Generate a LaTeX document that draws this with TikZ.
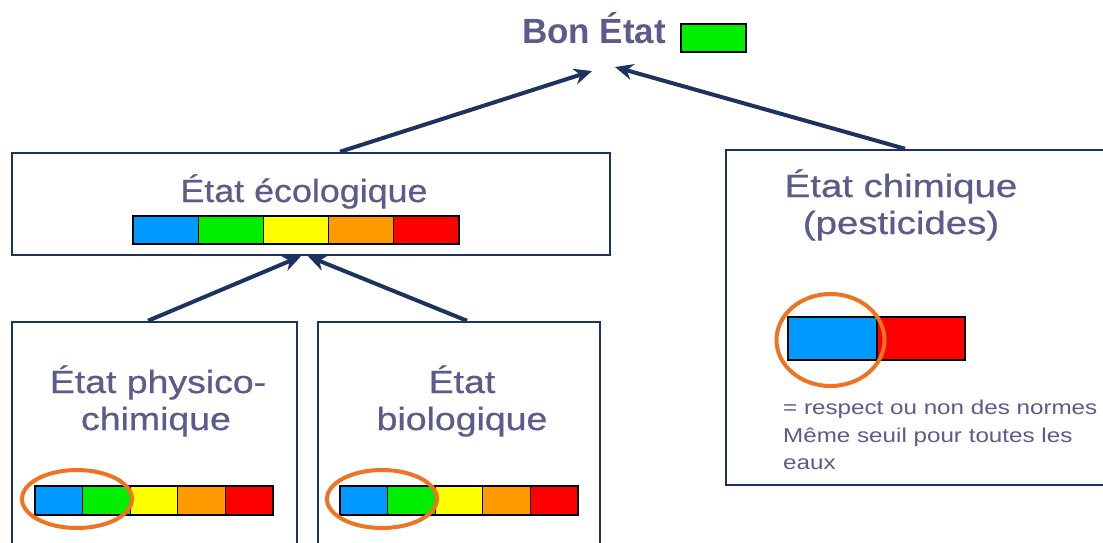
\documentclass[tikz,border=0pt]{standalone}
\usepackage{fontspec}
\setmainfont{Liberation Sans}
\newfontfamily\medsans{Liberation Sans}[FakeBold=0.6]
\usetikzlibrary{arrows.meta}

\definecolor{navy}{HTML}{1C335F}
\definecolor{ink}{HTML}{5C5C8C}
\definecolor{cblue}{HTML}{0099FF}
\definecolor{cgreen}{HTML}{00EE00}
\definecolor{cyellow}{HTML}{FFFF00}
\definecolor{corange}{HTML}{FF9900}
\definecolor{cred}{HTML}{FF0000}
\definecolor{ringc}{HTML}{EE7422}

% five-class status bar: left x, top y, cell width, height
\newcommand{\fivebar}[4]{%
  \foreach \c [count=\i from 0] in {cblue,cgreen,cyellow,corange,cred}
    \filldraw[fill=\c, draw=black, line width=1.2pt] ({#1+\i*#3},#2) rectangle ++(#3,#4);}

\tikzset{
  panel/.style={draw=navy, fill=white, line width=2.5pt, inner sep=0pt},
  lbl/.style={text=ink, inner sep=0pt, anchor=base, font=\medsans\fontsize{32}{38}\selectfont},
  note/.style={text=ink, inner sep=0pt, anchor=base west, font=\fontsize{20}{24}\selectfont},
  arr/.style={draw=navy, line width=4pt, -{Stealth[length=18pt,width=16pt]}},
  ring/.style={draw=ringc, line width=4pt},
}

\begin{document}
\begin{tikzpicture}[x=1pt,y=-1pt]
\useasboundingbox (0,0) rectangle (1103,542);
\clip (0,0) rectangle (1103,542);
\fill[white] (0,0) rectangle (1103,542);

% panels
\node[panel, minimum width=598pt, minimum height=102pt] (eco) at (311,204) {};
\node[panel, minimum width=400pt, minimum height=335pt] (chim) at (926,317.5) {};
\node[panel, minimum width=285pt, minimum height=240pt] (phys) at (154.5,442) {};
\node[panel, minimum width=282pt, minimum height=240pt] (bio) at (459,442) {};

% overall status
\node[lbl, font=\bfseries\fontsize{35}{42}\selectfont] (bon) at (594,43) {Bon État};
\node[draw=black, fill=cgreen, line width=1.2pt, minimum width=65pt, minimum height=28pt, inner sep=0pt] (bonbar) at (713.5,38) {};

% ecological status
\node[lbl] (ecoT) at (304,202) {\scalebox{1.12}[1]{État écologique}};
\fivebar{133}{216}{65.2}{28}

% physico-chemical status
\node[lbl] (physA) at (158,393) {\scalebox{1.17}[1]{État physico-}};
\node[lbl] (physB) at (156,430) {\scalebox{1.17}[1]{chimique}};
\fivebar{35}{486}{47.6}{29}
\draw[ring] (77,499) ellipse [x radius=55, y radius=29];

% biological status
\node[lbl] (bioA) at (462,393) {\scalebox{1.17}[1]{État}};
\node[lbl] (bioB) at (462,430) {\scalebox{1.17}[1]{biologique}};
\fivebar{340}{486}{47.6}{29}
\draw[ring] (382,499) ellipse [x radius=55, y radius=29];

% chemical status
\node[lbl] (chimA) at (901,197) {\scalebox{1.2}[1]{État chimique}};
\node[lbl] (chimB) at (901,234) {\scalebox{1.2}[1]{(pesticides)}};
\filldraw[fill=cblue, draw=black, line width=1.2pt] (788,317) rectangle (877,360);
\filldraw[fill=cred, draw=black, line width=1.2pt] (877,317) rectangle (965,360);
\draw[ring] (830.5,340) ellipse [x radius=54, y radius=46];
\node[note] (n1) at (783,414) {\scalebox{1.21}[1]{= respect ou non des normes}};
\node[note] (n2) at (783,442) {\scalebox{1.21}[1]{Même seuil pour toutes les}};
\node[note] (n3) at (783,469) {\scalebox{1.21}[1]{eaux}};

% aggregation arrows
\coordinate (tipL) at (592,71);
\coordinate (tipR) at (615,67);
\draw[arr] ([xshift=29pt]eco.north) -- (tipL);
\draw[arr] ([xshift=-21pt]chim.north) -- (tipR);
\draw[arr] ([xshift=-6.5pt]phys.north) -- ([xshift=-10pt]eco.south);
\draw[arr] ([xshift=8pt]bio.north) -- ([xshift=-3pt]eco.south);
\end{tikzpicture}
\end{document}
